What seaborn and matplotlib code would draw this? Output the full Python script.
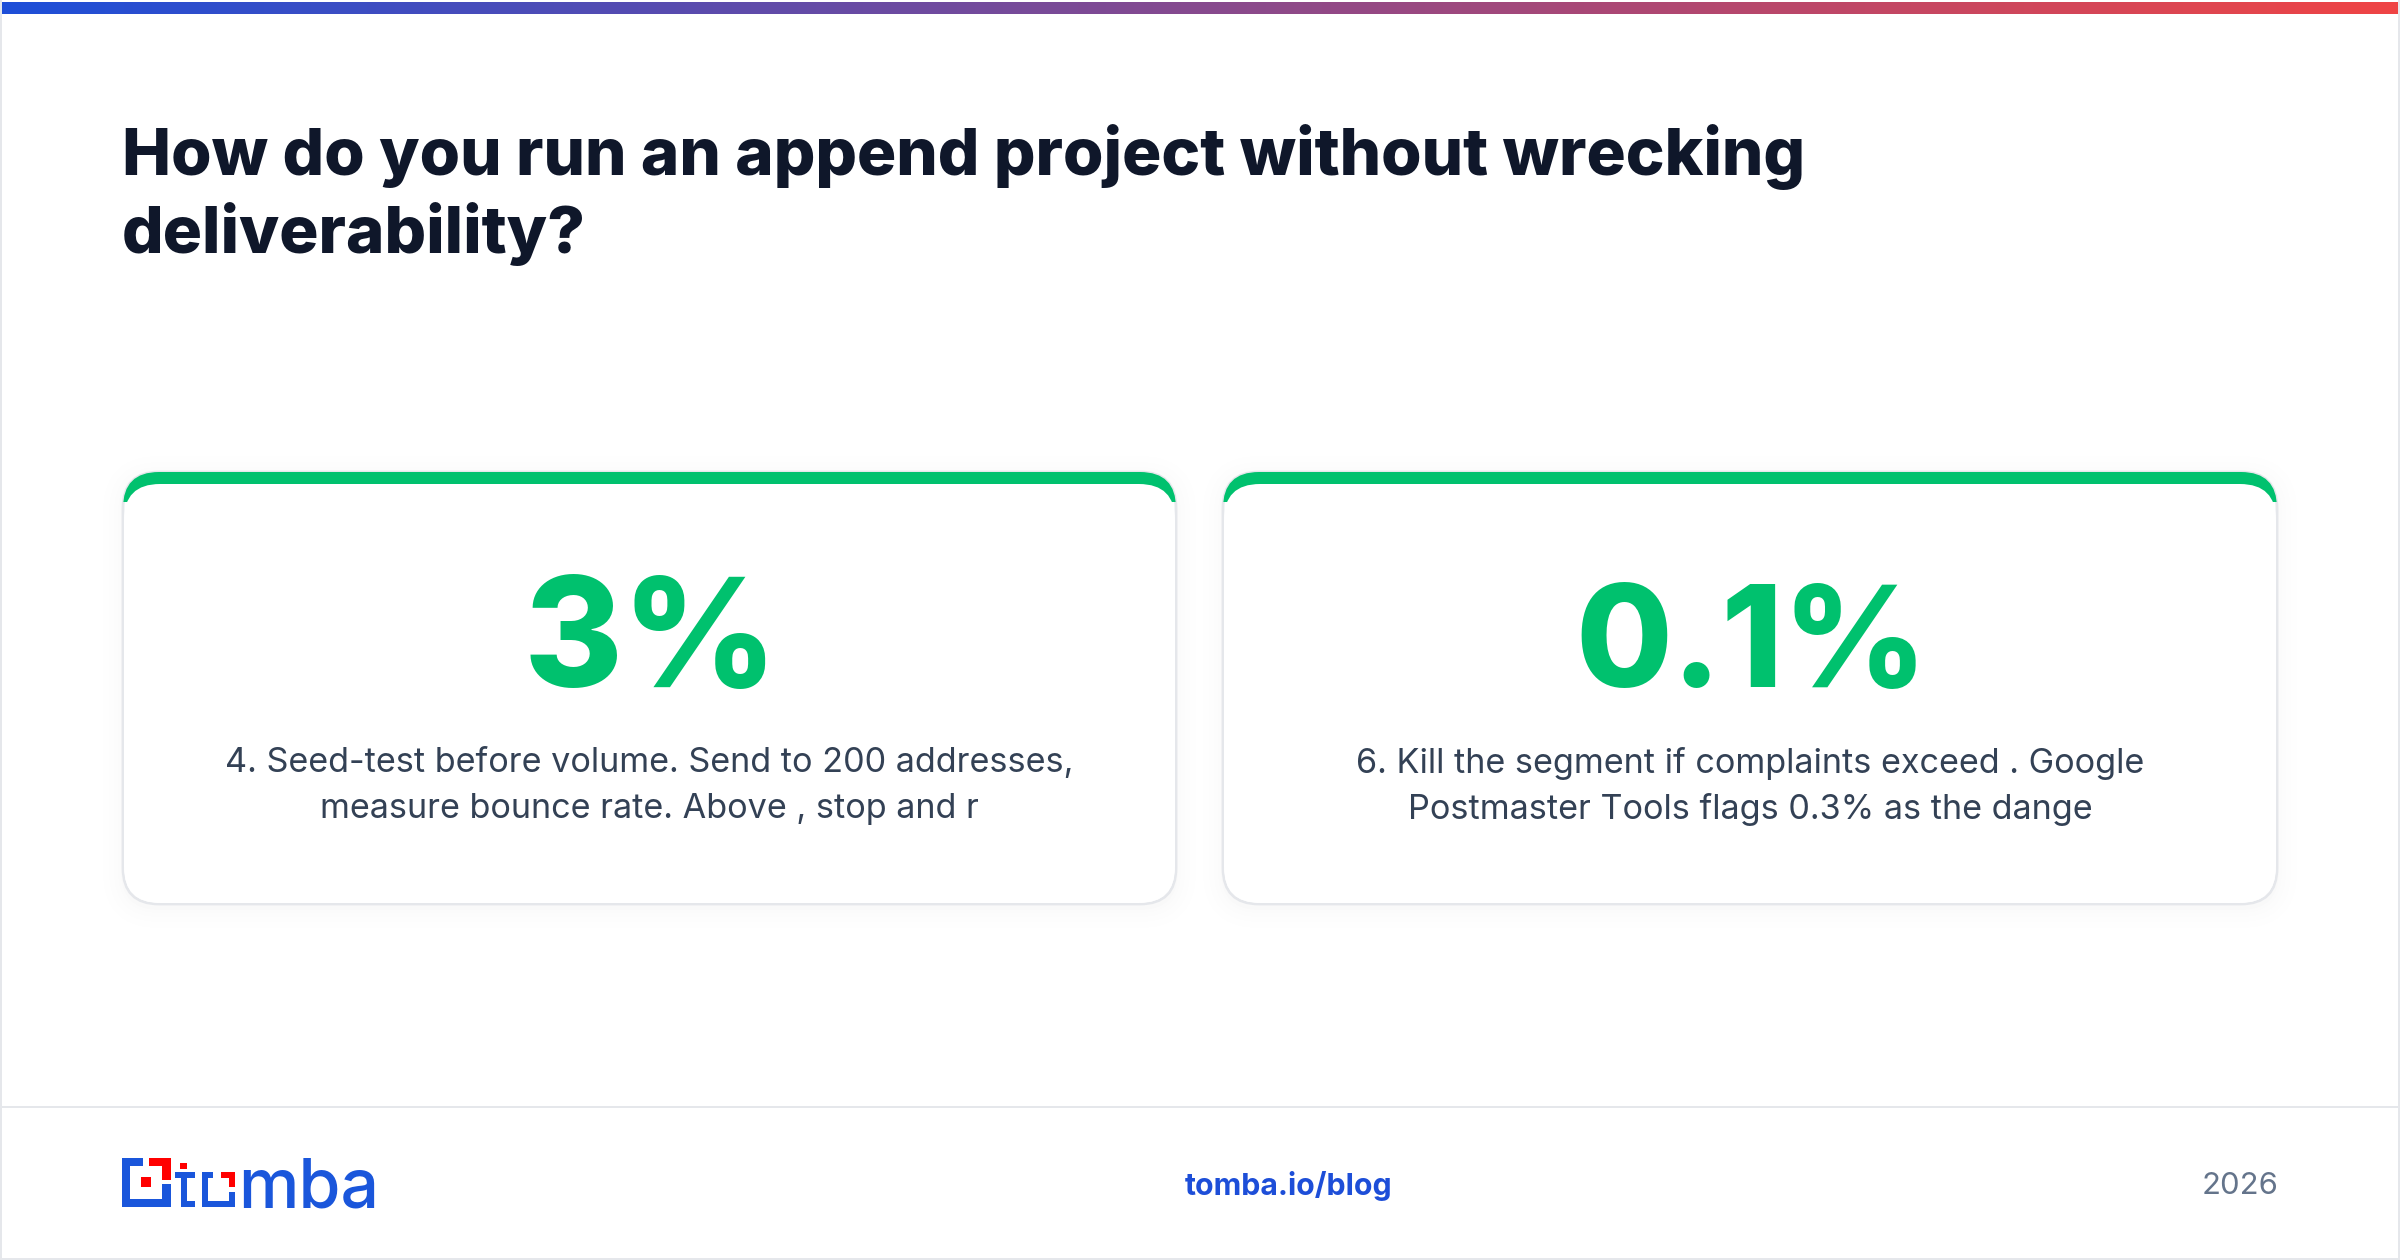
import matplotlib
matplotlib.use("Agg")
import matplotlib.pyplot as plt
import seaborn as sns
from matplotlib.patches import FancyBboxPatch, Rectangle

# Text and values
title_lines = ["How do you run an append project without wrecking", "deliverability?"]
stat_labels = ["3%", "0.1%"]
card_lines = [
    ["4. Seed-test before volume. Send to 200 addresses,", "measure bounce rate. Above , stop and r"],
    ["6. Kill the segment if complaints exceed . Google", "Postmaster Tools flags 0.3% as the dange"],
]
footer_link = "tomba.io/blog"
footer_year = "2026"
logo_word = "mba"

BLUE = "#1d4ed8"
RED = "#ef4444"
GREEN = "#00c16e"
LOGO_BLUE = "#1a56db"
LOGO_RED = "#ff0000"
EDGE = "#e5e7eb"

sns.set_theme(style="white")
plt.rcParams["font.family"] = ["Inter", "DejaVu Sans"]

fig = plt.figure(figsize=(24, 12.6), dpi=100, facecolor="white")
ax = fig.add_axes([0, 0, 1, 1])
ax.set_xlim(0, 2400)
ax.set_ylim(1260, 0)
ax.axis("off")


def px(size):
    return size * 0.72


def rounded(x0, y0, x1, y1, r, **kw):
    p = FancyBboxPatch((x0 + r, y0 + r), x1 - x0 - 2 * r, y1 - y0 - 2 * r,
                       boxstyle=f"round,pad={r},rounding_size={r}", **kw)
    ax.add_patch(p)
    return p


def rect(x0, y0, x1, y1, color):
    ax.add_patch(Rectangle((x0, y0), x1 - x0, y1 - y0, facecolor=color, edgecolor="none"))


# Outer frame
rect(0, 0, 2, 1260, EDGE)
rect(2398, 0, 2400, 1260, EDGE)
rect(0, 1258, 2400, 1260, EDGE)

# Top gradient strip
strip = fig.add_axes([2 / 2400, 1 - 14 / 1260, 2396 / 2400, 12 / 1260])
sns.heatmap([list(range(256))], ax=strip, cbar=False, xticklabels=False, yticklabels=False,
            cmap=sns.blend_palette([BLUE, RED], 256, as_cmap=True))

# Title
for line, y in zip(title_lines, [175, 253]):
    ax.text(122, y, line, fontsize=px(65.5), fontweight=800, color="#0f172a",
            ha="left", va="baseline")

# Cards
card_x = [(123, 1176), (1223, 2277)]
stat_sizes = [151, 140]
for (x0, x1), stat, size, lines in zip(card_x, stat_labels, stat_sizes, card_lines):
    # soft shadow
    for grow, alpha in zip([20, 14, 9, 5, 2], [0.003, 0.004, 0.004, 0.005, 0.006]):
        rounded(x0 - grow, 472 - grow + 4, x1 + grow, 904 + grow + 4, 36 + grow,
                facecolor="#0f172a", edgecolor="none", alpha=alpha)
    rounded(x0, 472, x1, 904, 36, facecolor="white", edgecolor=EDGE, linewidth=2)
    # green top band
    band = rounded(x0, 472, x1, 904, 36, facecolor=GREEN, edgecolor="none")
    band.set_clip_path(Rectangle((x0, 472), x1 - x0, 30, transform=ax.transData))
    rounded(x0 + 1, 484, x1 - 1, 903, 36, facecolor="white", edgecolor="none")
    xc = (x0 + x1) / 2
    ax.text(xc + 1, 687, stat, fontsize=px(size), fontweight=800, color=GREEN,
            ha="center", va="baseline")
    for line, y in zip(lines, [763, 809]):
        ax.text(xc, y, line, fontsize=px(34.2), color="#334155", ha="center", va="center")

# Footer
rect(0, 1106, 2400, 1108, EDGE)
ax.text(1289, 1186, footer_link, fontsize=px(30.3), fontweight="bold", color=BLUE,
        ha="center", va="center")
ax.text(2279, 1186, footer_year, fontsize=px(31), color="#64748b", ha="right", va="center")

# Logo, blocks
blue_blocks = [(122, 1158, 143, 1166), (122, 1158, 130, 1207), (122, 1199, 171, 1207),
               (162, 1184, 171, 1207), (181, 1172, 187, 1207), (175, 1172, 195, 1178),
               (181, 1201, 195, 1207), (202, 1172, 213, 1178), (202, 1172, 208, 1207),
               (202, 1201, 235, 1207), (229, 1192, 235, 1207)]
red_blocks = [(149, 1158, 171, 1166), (162, 1158, 171, 1180), (141, 1177, 151, 1187),
              (180, 1163, 187, 1169), (221, 1172, 235, 1178), (229, 1172, 235, 1187)]
for b in blue_blocks:
    rect(*b, LOGO_BLUE)
for b in red_blocks:
    rect(*b, LOGO_RED)
ax.text(238, 1207, logo_word, fontsize=px(68), fontweight="medium", color=LOGO_BLUE,
        ha="left", va="baseline")

fig.savefig("out.png", dpi=100)
